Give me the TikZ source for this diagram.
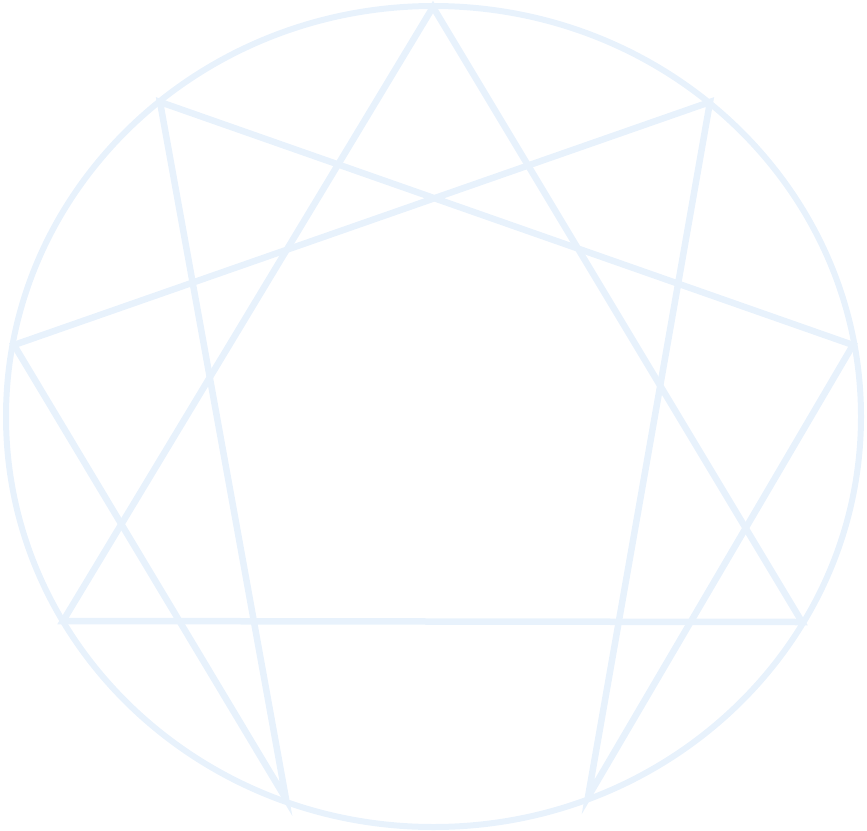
\documentclass[tikz,border=0pt]{standalone}
\usepackage{xcolor}
\usepackage{tikz}
\usetikzlibrary{calc}
\definecolor{enneablue}{RGB}{232,242,252}
\tikzset{enneaLine/.style={draw=enneablue, line width=6.5pt, line join=miter}}
\begin{document}
\begin{tikzpicture}[x=1pt, y=-1pt]
            \useasboundingbox (0,0) rectangle (867,830);
            \coordinate (p9) at (433,7);
            \coordinate (p1) at (710,102);
            \coordinate (p2) at (853,345);
            \coordinate (p3) at (802,622);
            \coordinate (p4) at (588,797);
            \coordinate (p5) at (286,799);
            \coordinate (p6) at (63,621);
            \coordinate (p7) at (14,345);
            \coordinate (p8) at (160,102);
            \draw [enneaLine, line width=6pt] (433.5,416.5) ellipse [x radius=427.5, y radius=410.5];
            % triangle
            \draw [enneaLine] (p9) -- (p3) -- (p6) -- cycle;
            % hexad
            \draw [enneaLine] (p1) -- (p4) -- (p2) -- (p8) -- (p5) -- (p7) -- cycle;
        \end{tikzpicture}
\end{document}
